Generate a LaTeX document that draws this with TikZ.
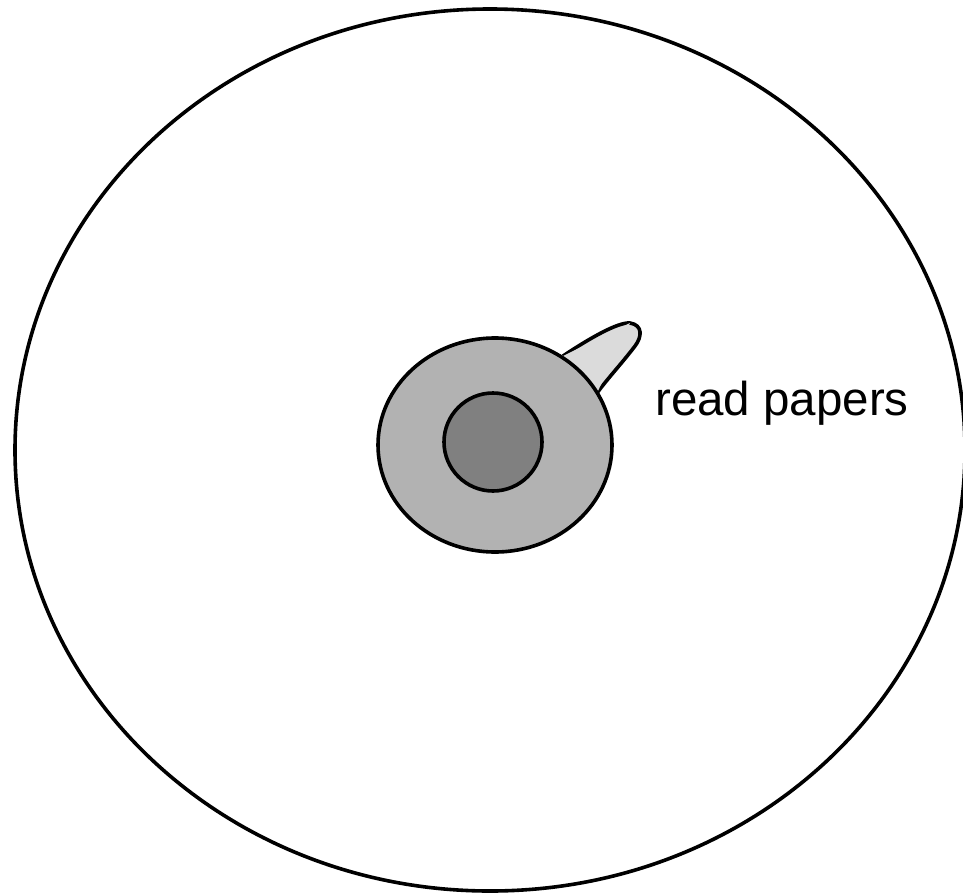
\documentclass[tikz,border=0pt]{standalone}
\usepackage{fontspec}
\setmainfont{Liberation Sans}
\begin{document}
\begin{tikzpicture}[x=1pt,y=-1pt,
  outline/.style={draw=black,line width=3.6pt},
  lbl/.style={font=\fontsize{47.5}{52}\selectfont,inner sep=0pt,anchor=base west}]
\useasboundingbox (0,0) rectangle (963,894);
\fill[white] (0,0) rectangle (963,894);
\draw[outline] (490,450) ellipse [x radius=475, y radius=441];
\draw[outline,fill=black!14,line join=round]
  (563,356) .. controls (590,338) and (618,322) .. (630,323)
  .. controls (643,325) and (642,337) .. (635,346)
  .. controls (623,362) and (608,378) .. (597,393);
\path[fill=black!14] (563,356) -- (630,323) -- (597,393) -- cycle;
\draw[outline,fill=black!30] (495,445) ellipse [x radius=117, y radius=107];
\draw[outline,fill=black!50] (493,442) circle [radius=49];
\node[lbl] (t) at (655,415) {read papers};
\end{tikzpicture}
\end{document}
